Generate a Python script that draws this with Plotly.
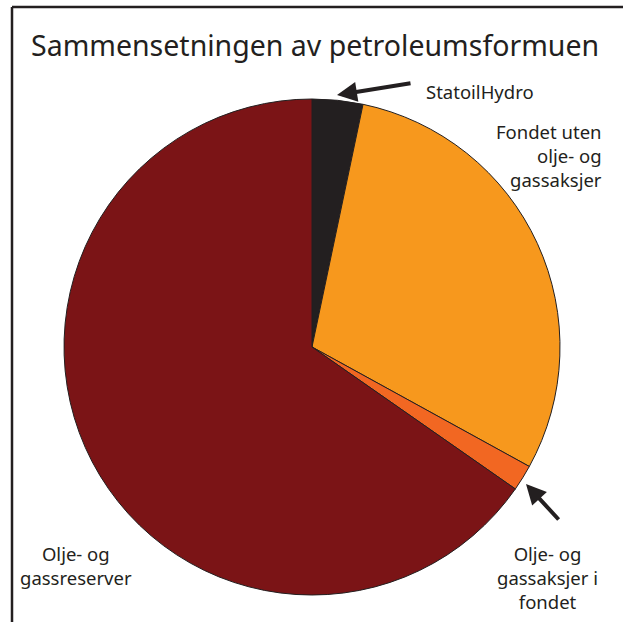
import plotly.graph_objects as go

labels = ["StatoilHydro", "Fondet uten olje- og gassaksjer",
          "Olje- og gassaksjer i fondet", "Olje- og gassreserver"]
values = [3.3, 29.7, 1.7, 65.3]
colors = ["#231F20", "#F7981D", "#F26722", "#7B1416"]

W, H = 623, 622
def px(x):
    return x / W
def py(y):
    return 1 - y / H

fig = go.Figure(go.Pie(
    labels=labels, values=values, sort=False, direction="clockwise", rotation=0,
    marker=dict(colors=colors, line=dict(color="#231F20", width=1)),
    textinfo="none", hoverinfo="label+percent", showlegend=False,
    domain=dict(x=[px(64), px(560)], y=[py(595), py(99)]),
))

txt = "#231F20"
font = "Noto Sans"
fig.add_annotation(text="Sammensetningen av petroleumsformuen", x=px(29), y=py(45),
                   xref="paper", yref="paper", xanchor="left", yanchor="middle",
                   showarrow=False, font=dict(family=font, size=28.5, color=txt))
fig.add_annotation(text="StatoilHydro", x=px(424), y=py(92), xref="paper", yref="paper",
                   xanchor="left", yanchor="middle", showarrow=False,
                   font=dict(family=font, size=18.5, color=txt))
fig.add_annotation(text="Fondet uten<br>olje- og<br>gassaksjer", x=px(604), y=py(156),
                   xref="paper", yref="paper", xanchor="right", yanchor="middle",
                   align="right", showarrow=False,
                   font=dict(family=font, size=18.5, color=txt))
fig.add_annotation(text="Olje- og<br>gassreserver", x=px(76), y=py(565),
                   xref="paper", yref="paper", xanchor="center", yanchor="middle",
                   align="center", showarrow=False,
                   font=dict(family=font, size=18.5, color=txt))
fig.add_annotation(text="Olje- og<br>gassaksjer i<br>fondet", x=px(547), y=py(577),
                   xref="paper", yref="paper", xanchor="center", yanchor="middle",
                   align="center", showarrow=False,
                   font=dict(family=font, size=18.5, color=txt))

# arrows
fig.add_annotation(text="", x=px(337), y=py(95), ax=412 - 337, ay=83 - 95,
                   xref="paper", yref="paper", showarrow=True, arrowhead=2,
                   arrowsize=1, arrowwidth=4, arrowcolor=txt)
fig.add_annotation(text="", x=px(526), y=py(484), ax=560 - 526, ay=521 - 484,
                   xref="paper", yref="paper", showarrow=True, arrowhead=2,
                   arrowsize=1, arrowwidth=4, arrowcolor=txt)

# frame
fig.add_shape(type="line", xref="paper", yref="paper", x0=px(12), x1=px(12),
              y0=0, y1=py(7), line=dict(color=txt, width=2.5))
fig.add_shape(type="line", xref="paper", yref="paper", x0=px(12), x1=1,
              y0=py(7), y1=py(7), line=dict(color=txt, width=2.5))

fig.update_layout(width=W, height=H, margin=dict(l=0, r=0, t=0, b=0),
                  paper_bgcolor="white", plot_bgcolor="white")
fig.write_html("out.html", config={"displayModeBar": False},
               post_script="document.body.style.margin='0';document.body.style.overflow='hidden';")
